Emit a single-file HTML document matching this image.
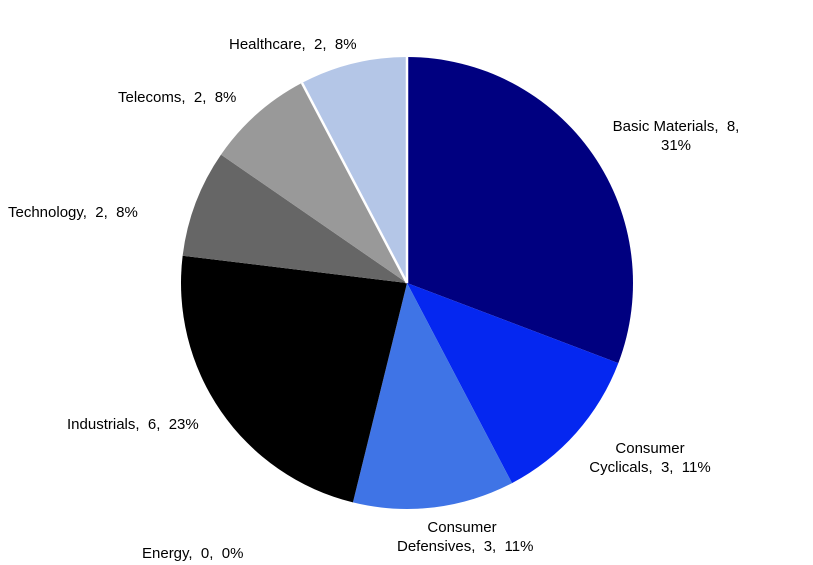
<!DOCTYPE html>
<html><head><meta charset="utf-8">
<style>
html,body{margin:0;padding:0;background:#fff;}
body{width:813px;height:565px;overflow:hidden;position:relative;font-family:"Liberation Sans",Arial,sans-serif;font-size:15px;color:#000;}
.l{position:absolute;white-space:nowrap;line-height:19px;}
.c{text-align:center;}
</style></head><body>
<svg id="s" width="813" height="565" style="position:absolute;left:0;top:0"></svg>
<div class="l" style="left:229px;top:35px">Healthcare,&nbsp; 2,&nbsp; 8%</div>
<div class="l" style="left:118px;top:88px">Telecoms,&nbsp; 2,&nbsp; 8%</div>
<div class="l" style="left:8px;top:203px">Technology,&nbsp; 2,&nbsp; 8%</div>
<div class="l c" style="left:611px;top:117px;width:130px">Basic Materials,&nbsp; 8,<br>31%</div>
<div class="l c" style="left:585px;top:439px;width:130px">Consumer<br>Cyclicals,&nbsp; 3,&nbsp; 11%</div>
<div class="l c" style="left:397px;top:518px;width:130px">Consumer<br>Defensives,&nbsp; 3,&nbsp; 11%</div>
<div class="l" style="left:67px;top:415px">Industrials,&nbsp; 6,&nbsp; 23%</div>
<div class="l" style="left:142px;top:544px">Energy,&nbsp; 0,&nbsp; 0%</div>
<script>
var cx=407,cy=283,r=226;
var d=[[8,"#000080"],[3,"#0527F0"],[3,"#3F74E6"],[0,"#fff"],[6,"#000"],[2,"#666"],[2,"#999"],[2,"#B4C6E7"]];
var t=26,a=0,h="";
function p(an){var rad=an*Math.PI/180;return [cx+r*Math.sin(rad),cy-r*Math.cos(rad)];}
d.forEach(function(x){if(!x[0])return;var b=a+x[0]/t*360;var s=p(a),e=p(b);
h+='<path d="M'+cx+','+cy+' L'+s[0]+','+s[1]+' A'+r+','+r+' 0 '+(b-a>180?1:0)+',1 '+e[0]+','+e[1]+' Z" fill="'+x[1]+'"/>';a=b;});
var e1=p(0),e2=p(332.31);
h+='<line x1="'+cx+'" y1="'+cy+'" x2="'+e1[0]+'" y2="'+e1[1]+'" stroke="#fff" stroke-width="2.5"/>';
h+='<line x1="'+cx+'" y1="'+cy+'" x2="'+e2[0]+'" y2="'+e2[1]+'" stroke="#fff" stroke-width="2.5"/>';
document.getElementById("s").innerHTML=h;
</script>
</body></html>
